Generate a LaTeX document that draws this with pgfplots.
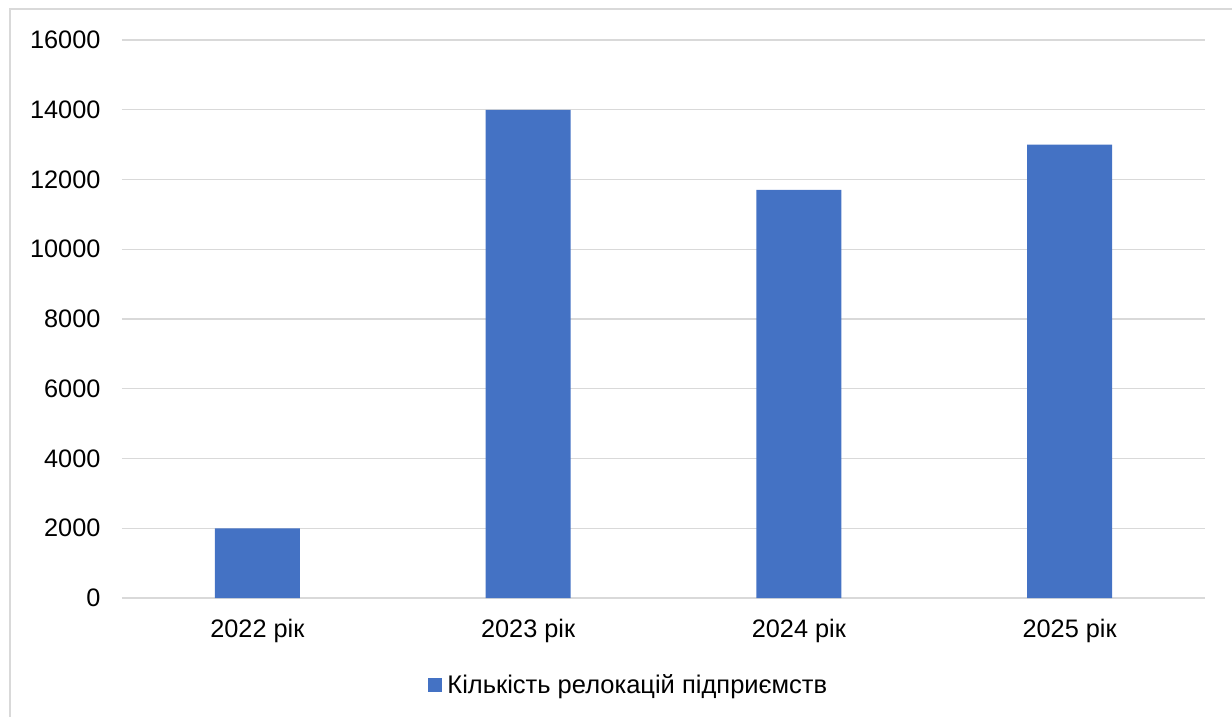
\documentclass[border=0pt]{standalone}
\usepackage{fontspec}
\setmainfont{Liberation Sans}
\usepackage{pgfplots}
\pgfplotsset{compat=1.18}
\definecolor{barblue}{HTML}{4472C4}
\definecolor{gridgray}{HTML}{D9D9D9}
\begin{document}
\begin{tikzpicture}[x=1pt,y=1pt]
\useasboundingbox (-122,-118) rectangle (1110,598);
\draw[gridgray,line width=1.2pt] (-112,-125) -- (-112,589) -- (1120,589);
\begin{axis}[
  at={(0,0)}, anchor=south west,
  scale only axis, width=1083pt, height=558pt,
  xmin=-0.5, xmax=3.5, ymin=0, ymax=16000,
  xtick={0,1,2,3}, xticklabels={2022 рік,2023 рік,2024 рік,2025 рік},
  ytick distance=2000,
  scaled y ticks=false,
  axis line style={draw=none},
  tick style={draw=none},
  ymajorgrids, grid style={gridgray, line width=1.2pt},
  extra y ticks={0}, extra y tick style={grid style={gridgray,line width=1.5pt}},
  extra y tick labels={},
  /pgf/number format/assume math mode=true,
  /pgf/number format/1000 sep={},
  tick label style={font=\fontsize{25.3}{29}\selectfont, text=black},
  yticklabel style={xshift=-18pt},
  xticklabel style={yshift=-18pt},
  legend style={at={(0.468,-0.156)}, anchor=center, draw=none, fill=none,
    font=\fontsize{25.5}{29}\selectfont, inner sep=0pt},
  legend image code/.code={\fill[barblue] (0pt,-7pt) rectangle (14pt,7pt); \path (17pt,0pt);},
  legend cell align=left,
]
\addplot[ybar, bar width=85pt, fill=barblue, draw=none] coordinates {
  (0,2000) (1,14000) (2,11700) (3,13000)
};
\addlegendentry{Кількість релокацій підприємств}
\end{axis}
\end{tikzpicture}
\end{document}
